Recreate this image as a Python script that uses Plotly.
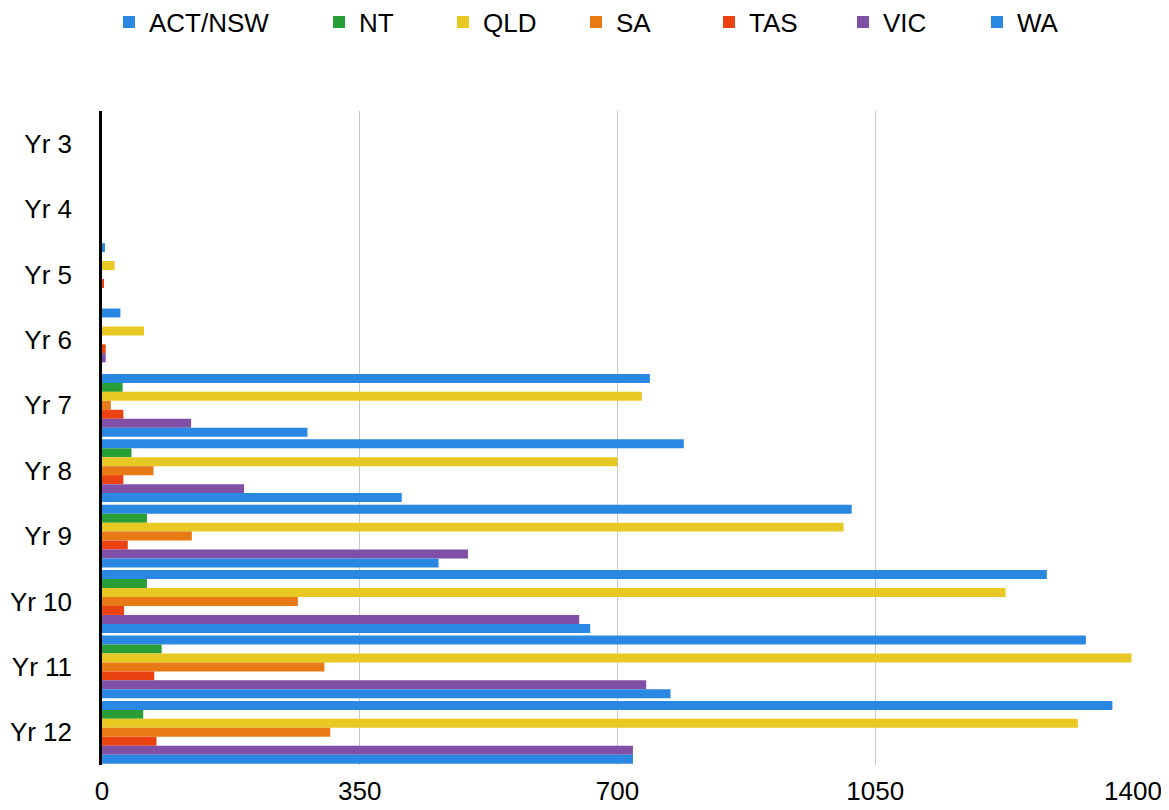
import plotly.graph_objects as go

categories = ["Yr 3", "Yr 4", "Yr 5", "Yr 6", "Yr 7", "Yr 8", "Yr 9", "Yr 10", "Yr 11", "Yr 12"]
series_names = ["ACT/NSW", "NT", "QLD", "SA", "TAS", "VIC", "WA"]

act_nsw = [0, 0, 4, 25, 744, 790, 1018, 1283, 1336, 1372]
nt = [0, 0, 0, 0, 28, 40, 61, 61, 81, 56]
qld = [0, 0, 17, 57, 733, 700, 1007, 1227, 1398, 1325]
sa = [0, 0, 0, 0, 12, 70, 122, 266, 302, 310]
tas = [0, 0, 2, 5, 29, 29, 35, 30, 71, 74]
vic = [0, 0, 0, 5, 121, 193, 497, 648, 739, 721]
wa = [0, 0, 0, 0, 279, 407, 457, 663, 772, 721]

series_values = [act_nsw, nt, qld, sa, tas, vic, wa]
colors = ["#2a88e2", "#2a9e36", "#e8c822", "#e87a16", "#ea4210", "#8050a6", "#2a88e2"]

x_ticks = [0, 350, 700, 1050, 1400]

# page is rendered with a small body margin, so the figure is drawn slightly inset
W, H = 1161, 802
legend_text_left = [150, 360, 484, 617, 750, 884, 1018]  # legend label starts, page px

fig = go.Figure()
legend_layout = {}
for i, (name, vals, col) in enumerate(zip(series_names, series_values, colors)):
    lg = "legend" if i == 0 else f"legend{i + 1}"
    fig.add_trace(go.Bar(
        name=name, y=categories, x=vals, orientation="h",
        marker=dict(color=col, line=dict(width=0)), legend=lg, showlegend=True,
    ))
    legend_layout[lg] = dict(
        orientation="h", xref="container", yref="container",
        x=(legend_text_left[i] - 49) / W, xanchor="left",
        y=1 - 14 / H, yanchor="middle",
        font=dict(size=26), itemwidth=30, bgcolor="rgba(0,0,0,0)",
    )

fig.update_layout(
    width=W, height=H, showlegend=True,
    barmode="group", bargap=0.04, bargroupgap=0,
    plot_bgcolor="white", paper_bgcolor="white",
    font=dict(family="Liberation Sans, Arial, sans-serif", size=26, color="black"),
    margin=dict(l=94, r=36, t=103, b=45, autoexpand=False),
    xaxis=dict(range=[0, 1400], tickvals=x_ticks, showgrid=True, gridcolor="#c8c8c8",
               gridwidth=1, zeroline=False, showline=False, ticks="",
               ticklabelstandoff=8, fixedrange=True, automargin=False),
    yaxis=dict(autorange="reversed", showline=True, linecolor="black", linewidth=2.5,
               ticks="", showgrid=False, ticklabelstandoff=22, automargin=False),
    **legend_layout,
)

fig.write_html("out.html")
